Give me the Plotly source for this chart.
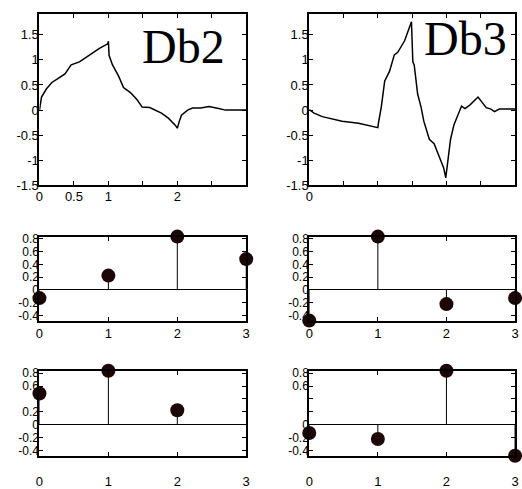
import plotly.graph_objects as go

W, H = 522, 489

# ---- data ----
db2_t = [0, 0.03, 0.1, 0.18, 0.25, 0.37, 0.46, 0.58, 0.72, 0.87, 0.99, 1.0, 1.01, 1.06, 1.15, 1.22,
         1.32, 1.42, 1.49, 1.6, 1.77, 1.87, 1.97, 2.0, 2.03, 2.06, 2.15, 2.22, 2.34, 2.46, 2.6, 2.7, 3.0]
db2_v = [0, 0.26, 0.42, 0.55, 0.61, 0.72, 0.9, 0.96, 1.09, 1.23, 1.32, 1.37, 1.09, 0.9, 0.67, 0.45,
         0.35, 0.2, 0.06, 0.05, -0.06, -0.16, -0.3, -0.36, -0.22, -0.1, 0.0, 0.04, 0.04, 0.07, 0.03, 0.0, 0.0]

db3_t = [0, 0.07, 0.19, 0.48, 0.72, 0.98, 1.0, 1.01, 1.05, 1.1, 1.17, 1.24, 1.29, 1.39, 1.49, 1.51,
         1.53, 1.58, 1.63, 1.67, 1.75, 1.82, 1.91, 1.96, 1.99, 2.02, 2.06, 2.11, 2.15, 2.22, 2.27,
         2.34, 2.46, 2.53, 2.58, 2.65, 2.70, 2.77, 3.0]
db3_v = [0.01, -0.06, -0.13, -0.22, -0.26, -0.34, -0.35, -0.25, 0.06, 0.58, 0.77, 1.1, 1.15, 1.38, 1.76, 0.96,
         0.9, 0.32, 0.06, -0.22, -0.58, -0.67, -0.96, -1.15, -1.35, -1.03, -0.58, -0.29, -0.16, 0.08, 0.03,
         0.1, 0.26, 0.13, 0.05, 0.02, -0.03, 0.02, 0.02]

n_idx = [0, 1, 2, 3]
db2_lo = [-0.1294, 0.2241, 0.8365, 0.4830]   # middle left
db2_hi = [0.4830, 0.8365, 0.2241]            # bottom left (3 points visible)
db3_lo = [-0.4830, 0.8365, -0.2241, -0.1294] # middle right
db3_hi = [-0.1294, -0.2241, 0.8365, -0.4830] # bottom right

top_y_ticks = [-1.5, -1, -0.5, 0, 0.5, 1, 1.5]
top_y_text = ["-1.5", "-1", "-0.5", "0", "0.5", "1", "1.5"]
top_x_ticks = [0, 0.5, 1, 1.5, 2, 2.5, 3]
db2_x_text = ["0", "0.5", "1", "", "2", "", ""]
db3_x_text = ["0", "", "", "", "", "", ""]
stem_y_ticks = [-0.4, -0.2, 0, 0.2, 0.4, 0.6, 0.8]
mid_y_text = ["-0.4", "-0.2", "0", "0.2", "0.4", "0.6", "0.8"]
bl_y_text = ["-0.4", "-0.2", "0", "0.2", "", "0.6", "0.8"]
br_y_text = ["-0.4", "-0.2", "0", "", "", "0.6", "0.8"]
stem_x_ticks = [0, 1, 2, 3]
stem_x_text = ["0", "1", "2", "3"]

FONT = "Liberation Sans"
MK = "#1c0606"

fig = go.Figure()

def dom_x(l, r):
    return [l / W, r / W]

def dom_y(t, b):
    return [1 - b / H, 1 - t / H]

cols = {"L": dom_x(36, 246), "R": dom_x(310, 519)}
rows = {"T": dom_y(10, 188), "M": dom_y(241, 328), "B": dom_y(380, 468)}

def axis_common():
    return dict(showline=True, linecolor="black", linewidth=2, mirror="ticks",
                ticks="inside", ticklen=4, tickcolor="black", tickwidth=1,
                showgrid=False, tickfont=dict(family=FONT, size=13, color="black"))

panels = [
    # name, col, row, xr, yr, xticks, xtext, yticks, ytext, xstandoff, zeroline, yfont
    ("1", "L", "T", [0, 3], [-1.5, 1.92], top_x_ticks, db2_x_text, top_y_ticks, top_y_text, -2, False, 13),
    ("2", "R", "T", [0, 3], [-1.5, 1.92], top_x_ticks, db3_x_text, top_y_ticks, top_y_text, -2, False, 13),
    ("3", "L", "M", [0, 3], [-0.483, 0.8365], stem_x_ticks, stem_x_text, stem_y_ticks, mid_y_text, 0, True, 12),
    ("4", "R", "M", [0, 3], [-0.483, 0.8365], stem_x_ticks, stem_x_text, stem_y_ticks, mid_y_text, 0, True, 12),
    ("5", "L", "B", [0, 3], [-0.483, 0.8365], stem_x_ticks, stem_x_text, stem_y_ticks, bl_y_text, 13, True, 12),
    ("6", "R", "B", [0, 3], [-0.483, 0.8365], stem_x_ticks, stem_x_text, stem_y_ticks, br_y_text, 13, True, 12),
]

layout = dict(width=W, height=H, margin=dict(l=0, r=0, t=0, b=0),
              paper_bgcolor="white", plot_bgcolor="white", showlegend=False)

for name, c, r, xr, yr, xt, xtx, yt, ytx, xso, zl, yfs in panels:
    xa = axis_common()
    xa.update(domain=cols[c], range=xr, tickvals=xt, ticktext=xtx,
              anchor="y" + name, zeroline=False, ticklabelstandoff=xso)
    ya = axis_common()
    ya.update(domain=rows[r], range=yr, tickvals=yt, ticktext=ytx,
              anchor="x" + name, zeroline=zl, zerolinecolor="black", zerolinewidth=1,
              ticklabelstandoff=-4, tickfont=dict(family=FONT, size=yfs, color="black"))
    key = "" if name == "1" else name
    layout["xaxis" + key] = xa
    layout["yaxis" + key] = ya

def ax(name):
    return ("x" if name == "1" else "x" + name), ("y" if name == "1" else "y" + name)

# curves
for name, t, v in [("1", db2_t, db2_v), ("2", db3_t, db3_v)]:
    xa, ya = ax(name)
    fig.add_trace(go.Scatter(x=t, y=v, mode="lines", xaxis=xa, yaxis=ya,
                             line=dict(color="black", width=1.5), hoverinfo="skip"))

# stems
for name, vals in [("3", db2_lo), ("4", db3_lo), ("5", db2_hi), ("6", db3_hi)]:
    xa, ya = ax(name)
    idx = n_idx[:len(vals)]
    sx, sy = [], []
    for i, v in zip(idx, vals):
        sx += [i, i, None]
        sy += [0, v, None]
    fig.add_trace(go.Scatter(x=sx, y=sy, mode="lines", xaxis=xa, yaxis=ya,
                             line=dict(color="black", width=1), cliponaxis=False, hoverinfo="skip"))
    fig.add_trace(go.Scatter(x=idx, y=vals, mode="markers", xaxis=xa, yaxis=ya,
                             marker=dict(color=MK, size=14, line=dict(width=0)),
                             cliponaxis=False, hoverinfo="skip"))

layout["annotations"] = [
    dict(text="Db2", x=138 / W, y=1 - 14 / H, xref="paper", yref="paper",
         xanchor="left", yanchor="top", showarrow=False,
         font=dict(family="Liberation Serif", size=48, color="black")),
    dict(text="Db3", x=425 / W, y=1 - 6 / H, xref="paper", yref="paper",
         xanchor="left", yanchor="top", showarrow=False,
         font=dict(family="Liberation Serif", size=48, color="black")),
]

fig.update_layout(**layout)
fig.write_html("out.html")
